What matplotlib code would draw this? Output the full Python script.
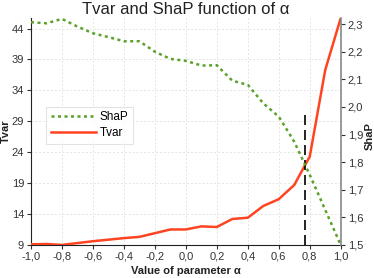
import matplotlib
matplotlib.use("Agg")
import matplotlib.pyplot as plt
from matplotlib.ticker import FuncFormatter

plt.rcParams['font.family'] = ['Liberation Sans', 'DejaVu Sans']

# valori
alpha = [-1.0, -0.9, -0.8, -0.7, -0.6, -0.5, -0.4, -0.3, -0.2, -0.1, 0.0,
         0.1, 0.2, 0.3, 0.4, 0.5, 0.6, 0.7, 0.8, 0.9, 1.0]
tvar = [9.1, 9.15, 9.0, 9.3, 9.6, 9.85, 10.1, 10.3, 10.9, 11.5, 11.5,
        12.0, 11.9, 13.2, 13.4, 15.3, 16.4, 18.7, 23.3, 37.3, 45.7]
shap = [2.307, 2.303, 2.319, 2.291, 2.267, 2.253, 2.238, 2.238, 2.200, 2.174, 2.167,
        2.150, 2.151, 2.095, 2.080, 2.013, 1.965, 1.874, 1.754, 1.627, 1.5]
alpha_cut = 0.77
left_ticks = [9, 14, 19, 24, 29, 34, 39, 44]
right_ticks = [1.5, 1.6, 1.7, 1.8, 1.9, 2.0, 2.1, 2.2, 2.3]
x_ticks = [-1.0, -0.8, -0.6, -0.4, -0.2, 0.0, 0.2, 0.4, 0.6, 0.8, 1.0]

comma = FuncFormatter(lambda v, p: f"{v:.1f}".replace('.', ','))

fig = plt.figure(figsize=(3.74, 2.78), dpi=100)
ax = fig.add_axes([0.083, 0.119, 0.828, 0.816])
ax2 = ax.twinx()

red = '#ff4422'
green = '#5ba12b'

l_tvar, = ax.plot(alpha, tvar, color=red, lw=1.8, label='Tvar', zorder=3)
l_shap, = ax2.plot(alpha, shap, color=green, lw=1.8, ls=(0, (1.2, 1.4)), label='ShaP')
ax.plot([alpha_cut, alpha_cut], [9, 30.5], color='black', lw=1.2, ls=(0, (6, 3)), zorder=4)

ax.set_xlim(-1.0, 1.0)
ax.set_ylim(9, 45.7)
ax2.set_ylim(1.5, 2.322)
ax.set_xticks(x_ticks)
ax.set_yticks(left_ticks)
ax2.set_yticks(right_ticks)
ax.xaxis.set_major_formatter(comma)
ax2.yaxis.set_major_formatter(comma)

ax.grid(True, color='#e4e4e4', ls=(0, (2, 2)), lw=0.7)
for a in (ax, ax2):
    a.spines['top'].set_visible(False)
    a.tick_params(labelsize=8, colors='#333333', length=3, width=0.8, pad=2)
ax.spines['right'].set_visible(False)
ax2.spines['left'].set_visible(False)
ax2.spines['bottom'].set_visible(False)
ax2.spines['right'].set_color('#888888')
ax2.spines['right'].set_linewidth(1.2)
ax.spines['left'].set_color('#222222')
ax.spines['bottom'].set_color('#222222')

ax.set_title('Tvar and ShaP function of α', fontsize=12, color='#222222', pad=3)
ax.set_xlabel('Value of parameter α', fontsize=8, fontweight='bold', color='#222222')
ax.set_ylabel('Tvar', fontsize=8, fontweight='bold', color='#222222')
ax2.set_ylabel('ShaP', fontsize=8, fontweight='bold', color='#222222')
ax.xaxis.set_label_coords(0.5, -0.092)
ax.yaxis.set_label_coords(-0.064, 0.5)
ax2.yaxis.set_label_coords(1.078, 0.48)

leg = ax.legend([l_shap, l_tvar], ['ShaP', 'Tvar'], loc='upper left',
                bbox_to_anchor=(0.03, 0.635), fontsize=8.5, frameon=True,
                fancybox=False, edgecolor='#dddddd', handlelength=3.8,
                borderpad=0.4, labelspacing=0.3, handletextpad=0.3)
leg.get_frame().set_linewidth(0.8)

fig.savefig('out.png', dpi=100)
